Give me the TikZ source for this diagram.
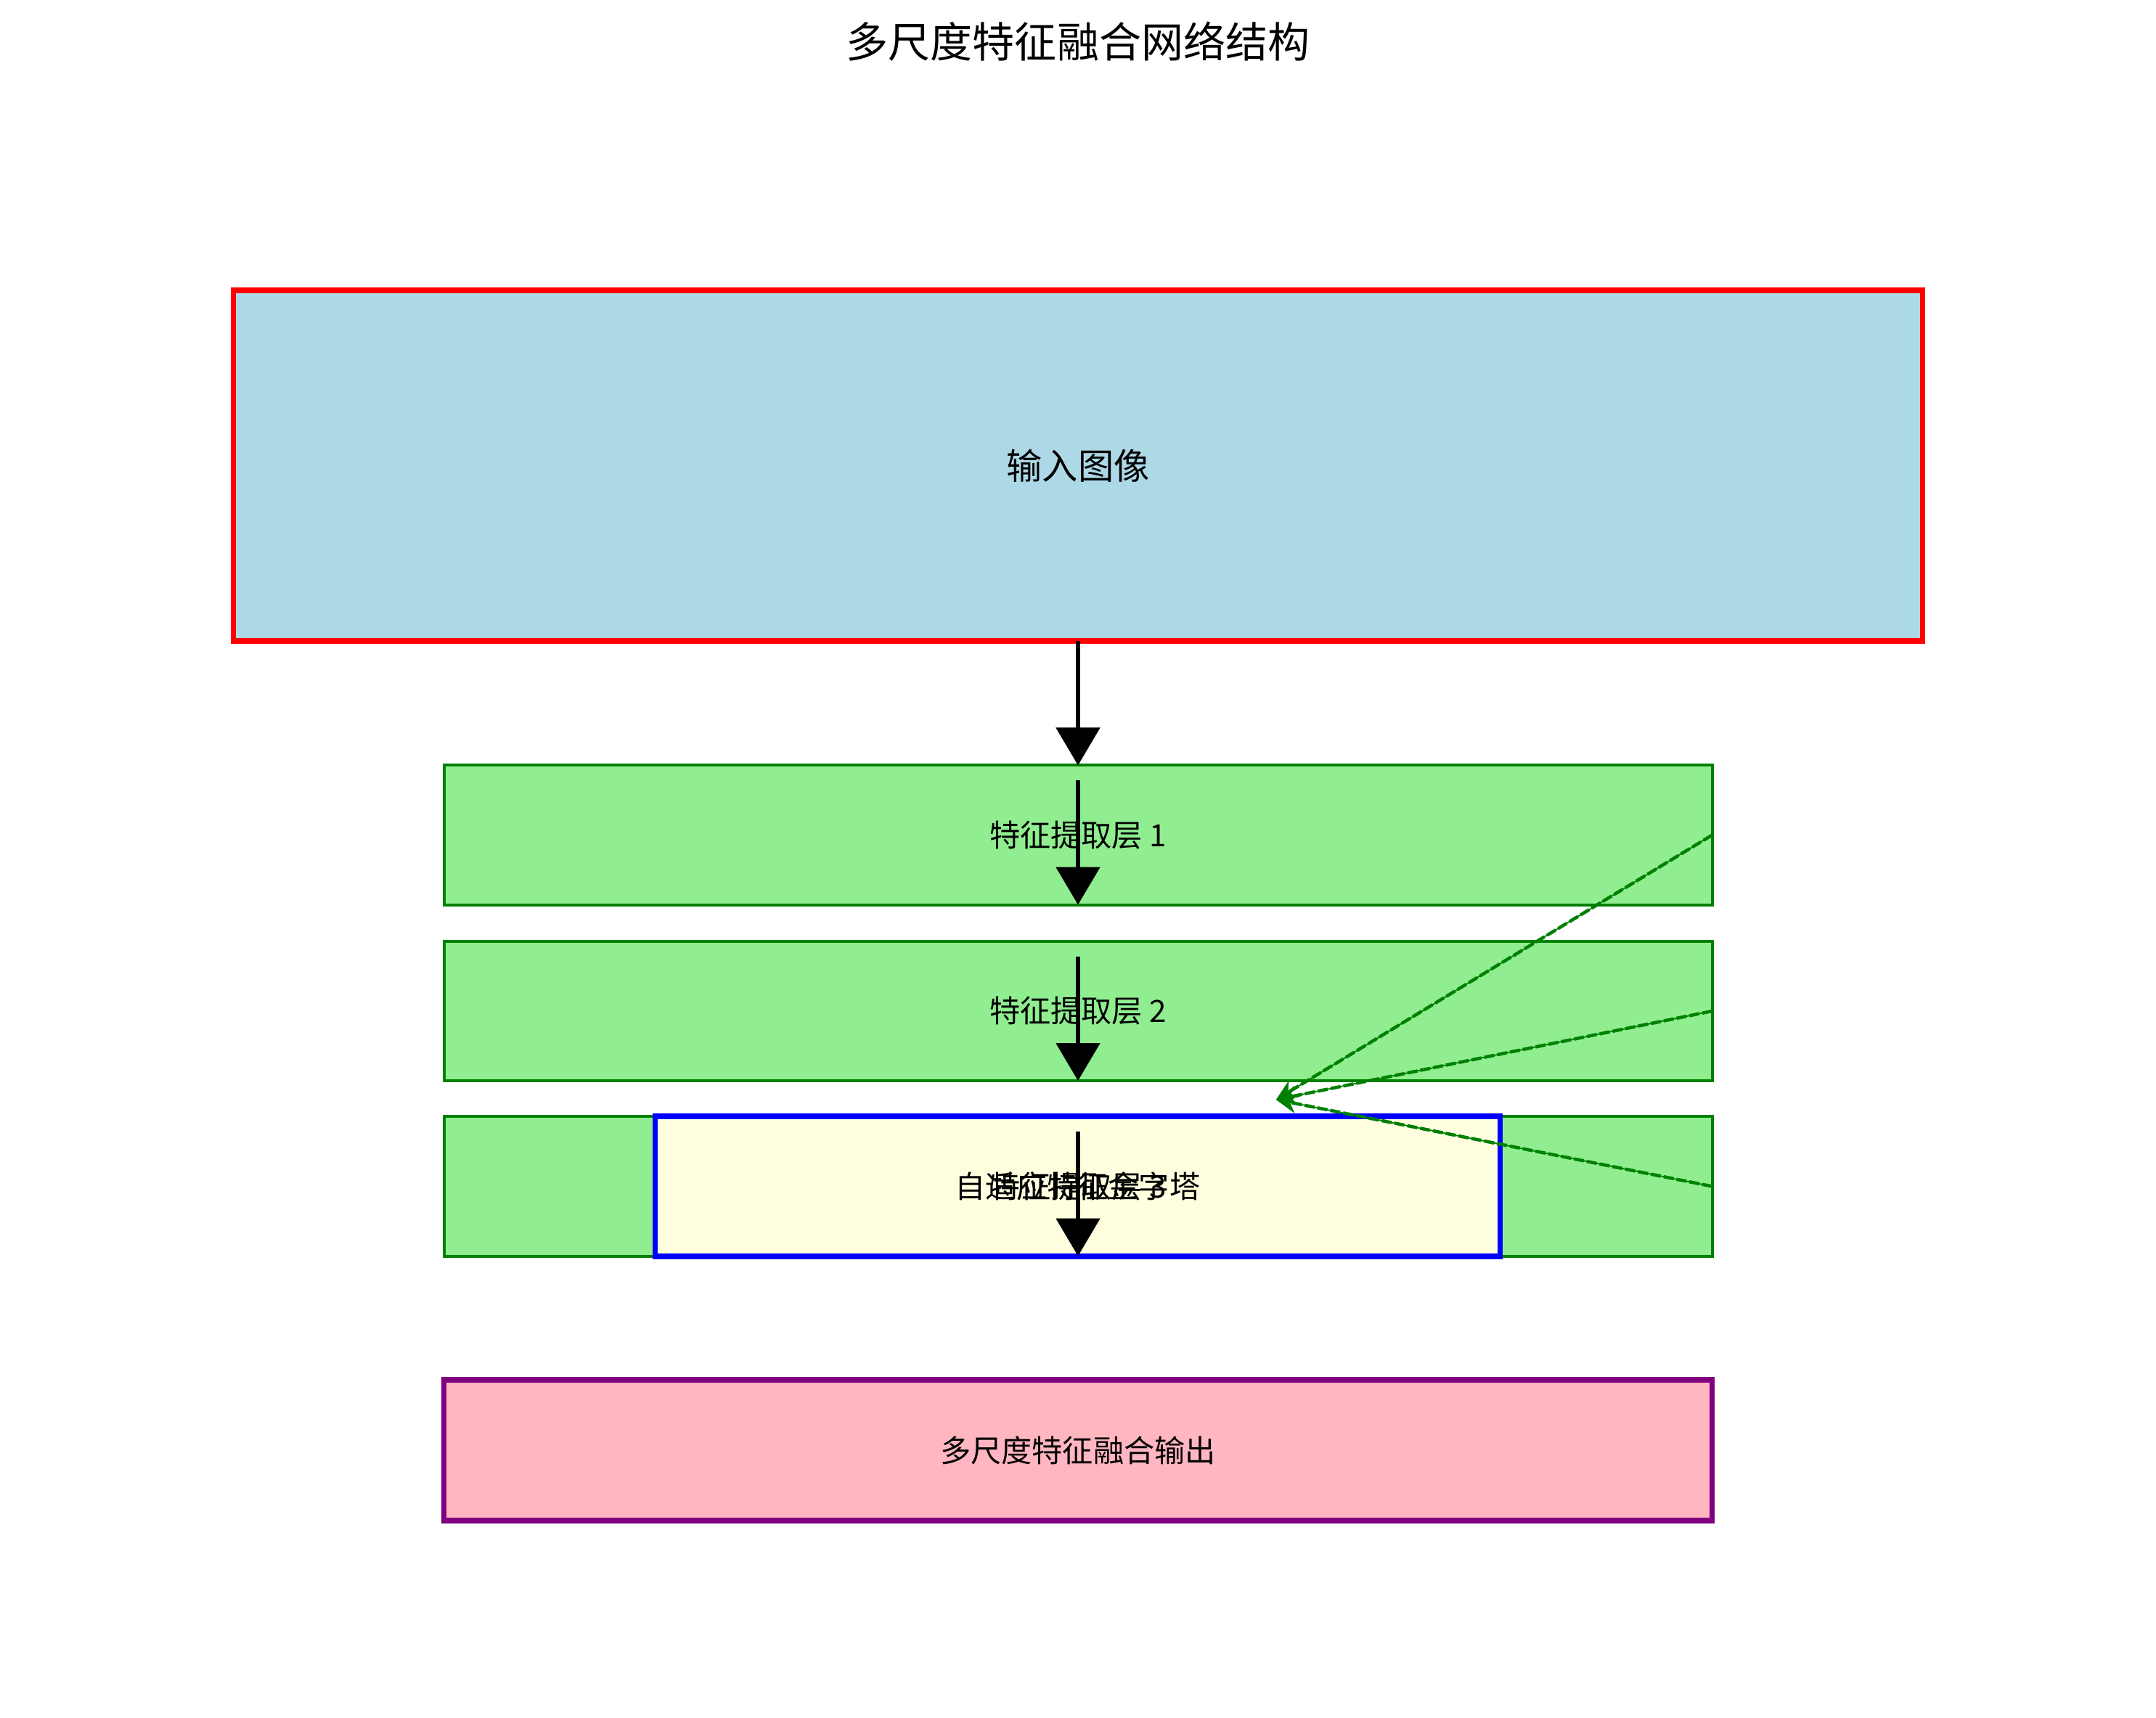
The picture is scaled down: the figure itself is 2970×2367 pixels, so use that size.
\documentclass[tikz,border=0pt]{standalone}
\usepackage{fontspec}
\setmainfont{Noto Sans CJK SC}
\usepackage{xcolor}
\usepackage{tikz}
\usetikzlibrary{arrows.meta,calc}
\definecolor{inblue}{HTML}{ADD8E6}
\definecolor{laygreen}{HTML}{90EE90}
\definecolor{edgegreen}{HTML}{008000}
\definecolor{pyryellow}{HTML}{FFFFE0}
\definecolor{outpink}{HTML}{FFB6C1}
\definecolor{outpurple}{HTML}{800080}
\tikzset{
  box/.style={rectangle,inner sep=0pt,outer sep=0pt},
  inbox/.style={box,fill=inblue,draw=red,line width=0.075cm,minimum width=23.26cm,minimum height=4.83cm},
  laybox/.style={box,fill=laygreen,draw=edgegreen,line width=0.04cm,minimum width=17.46cm,minimum height=1.92cm},
  pyrbox/.style={box,fill=pyryellow,draw=blue,line width=0.075cm,minimum width=11.63cm,minimum height=1.93cm},
  outbox/.style={box,fill=outpink,draw=outpurple,line width=0.075cm,minimum width=17.46cm,minimum height=1.94cm},
  txt/.style={font=\fontsize{12}{14}\selectfont,inner sep=0pt},
  ar/.style={-{Triangle[length=0.52cm,width=0.6cm]},line width=0.055cm,black},
  fuse/.style={-{Stealth[length=0.28cm,width=0.26cm]},draw=edgegreen,line width=0.045cm,dash pattern=on 0.14cm off 0.04cm,
    preaction={draw=edgegreen,line width=0.018cm,solid}},
}
\begin{document}
\begin{tikzpicture}[x=0.01cm,y=-0.01cm]
  \useasboundingbox (0,0) rectangle (2970,2367);
  \node[font=\fontsize{16.5}{19}\selectfont] (title) at (1485,57) {多尺度特征融合网络结构};
  % boxes first, texts on top
  \node[inbox] (in) at (1485,641.5) {};
  \node[laybox] (l1) at (1485,1150.5) {};
  \node[laybox] (l2) at (1485,1393) {};
  \node[laybox] (l3) at (1485,1634.5) {};
  \node[pyrbox] (pyr) at (1484.5,1634.5) {};
  \node[outbox] (out) at (1485,1998) {};
  \node[txt,font=\fontsize{14}{16}\selectfont] (intxt) at (in) {输入图像};
  \node[txt] (l1txt) at (l1) {特征提取层 1};
  \node[txt] (l2txt) at (l2) {特征提取层 2};
  \node[txt] (l3txt) at (l3) {特征提取层 3};
  \node[txt] (pyrtxt) at (pyr) {自适应特征金字塔};
  \node[txt] (outtxt) at (out) {多尺度特征融合输出};
  \draw[ar] (in.south) -- (l1.north);
  \foreach \l in {l1,l2,l3}
    \draw[ar] ([yshift=-0.21cm]\l.north) -- (\l.south);
  \coordinate (fz) at (1758,1515);
  \foreach \l in {l1,l2,l3}
    \draw[fuse] (\l.east) -- (fz);
\end{tikzpicture}
\end{document}
